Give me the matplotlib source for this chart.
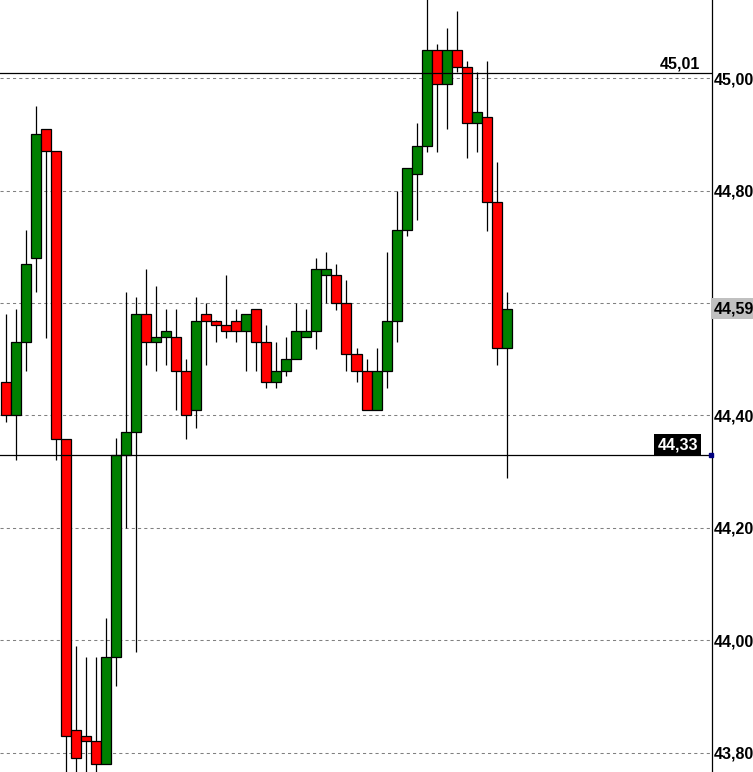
import numpy as np
import matplotlib
matplotlib.use("Agg")
import matplotlib.pyplot as plt
import matplotlib.transforms as mtransforms
from matplotlib.ticker import FuncFormatter

plt.rcParams['font.family'] = ['Liberation Sans', 'DejaVu Sans']

# OHLC values (one candle per bar)
opens = [44.459, 44.401, 44.530, 44.680, 44.909, 44.871, 44.359, 43.840, 43.829, 43.820,
         43.780, 43.970, 44.329, 44.370, 44.580, 44.530, 44.539, 44.539, 44.480, 44.409,
         44.580, 44.569, 44.561, 44.569, 44.550, 44.589, 44.530, 44.459, 44.480, 44.500,
         44.539, 44.550, 44.650, 44.650, 44.600, 44.509, 44.480, 44.409, 44.480, 44.569,
         44.730, 44.830, 44.879, 45.050, 44.989, 45.050, 45.020, 44.920, 44.931, 44.780,
         44.520]
highs = [44.581, 44.590, 44.730, 44.951, 44.910, 44.871, 44.359, 43.990, 43.970, 43.970,
         44.039, 44.360, 44.620, 44.611, 44.661, 44.630, 44.590, 44.590, 44.501, 44.611,
         44.600, 44.570, 44.650, 44.590, 44.580, 44.589, 44.561, 44.530, 44.539, 44.600,
         44.590, 44.680, 44.691, 44.670, 44.641, 44.520, 44.501, 44.520, 44.691, 44.799,
         44.840, 44.920, 45.160, 45.061, 45.090, 45.120, 45.030, 45.012, 45.030, 44.851,
         44.619]
lows = [44.389, 44.321, 44.480, 44.619, 44.538, 44.320, 43.740, 43.740, 43.740, 43.740,
        43.780, 43.919, 44.199, 43.980, 44.489, 44.480, 44.489, 44.409, 44.359, 44.378,
        44.489, 44.530, 44.538, 44.530, 44.480, 44.480, 44.449, 44.449, 44.470, 44.500,
        44.539, 44.519, 44.600, 44.588, 44.480, 44.459, 44.409, 44.409, 44.449, 44.530,
        44.720, 44.748, 44.869, 44.869, 44.909, 45.011, 44.859, 44.869, 44.729, 44.489,
        44.289]
closes = [44.401, 44.530, 44.669, 44.900, 44.871, 44.359, 43.830, 43.790, 43.821, 43.780,
          43.970, 44.329, 44.370, 44.580, 44.530, 44.539, 44.550, 44.480, 44.400, 44.569,
          44.569, 44.561, 44.550, 44.550, 44.580, 44.530, 44.459, 44.480, 44.500, 44.550,
          44.550, 44.660, 44.660, 44.600, 44.509, 44.480, 44.409, 44.480, 44.569, 44.730,
          44.840, 44.879, 45.050, 44.989, 45.050, 45.020, 44.920, 44.940, 44.780, 44.520,
          44.590]

y_ticks = [43.8, 44.0, 44.2, 44.4, 44.6, 44.8, 45.0]
level_high = 45.01
level_low = 44.33
last_price = 44.59

o = np.array(opens)
h = np.array(highs)
l = np.array(lows)
c = np.array(closes)
idx = np.arange(len(o))
up = c >= o


def fmt(v):
    return f"{v:.2f}".replace('.', ',')


fig = plt.figure(figsize=(7.53, 7.72), dpi=100)
ax = fig.add_axes([0, 0, 712 / 753, 1])

# wicks then bodies
ax.vlines(idx, l, h, color='black', linewidth=0.9, zorder=2)
ax.bar(idx, np.abs(c - o), bottom=np.minimum(o, c), width=1.0,
       color=np.where(up, '#008000', '#ff0000'), edgecolor='black',
       linewidth=0.9, zorder=3)

# support / resistance lines
ax.axhline(level_high, color='black', linewidth=0.9, zorder=4)
ax.axhline(level_low, color='black', linewidth=0.9, zorder=4)

ax.set_xlim(-0.55, 70.45)
ax.set_ylim(43.7656, 45.1393)

ax.set_yticks(y_ticks)
ax.yaxis.set_major_formatter(FuncFormatter(lambda v, p: fmt(v)))
ax.yaxis.tick_right()
ax.tick_params(axis='y', length=0, pad=1.5, labelsize=11.5)
plt.setp(ax.get_yticklabels(), fontweight='bold')
ax.set_xticks([])
ax.grid(axis='y', color='#808080', linestyle=(0, (3, 3)), linewidth=0.75)
ax.set_axisbelow(True)

for side in ['top', 'left', 'bottom']:
    ax.spines[side].set_visible(False)
ax.spines['right'].set_linewidth(0.9)

trans = mtransforms.blended_transform_factory(ax.transAxes, ax.transData)

# level labels
ax.annotate(fmt(level_high), xy=(1, level_high), xycoords=trans,
            xytext=(-8.2, 3.2), textcoords='offset points', ha='right', va='baseline',
            fontsize=11.5, fontweight='bold', color='black', annotation_clip=False, zorder=6)
ax.annotate(fmt(level_low), xy=(1, level_low), xycoords=trans,
            xytext=(-10.2, 1.8), textcoords='offset points', ha='right', va='bottom',
            fontsize=11.5, fontweight='bold', color='white', annotation_clip=False, zorder=6,
            bbox=dict(boxstyle='square,pad=0.2', facecolor='black', edgecolor='none'))
ax.plot([0.998], [level_low], marker='s', markersize=3, color='#000080',
        transform=trans, clip_on=False, zorder=6)

# current price tag on the axis
ax.annotate(fmt(last_price), xy=(1, last_price), xycoords=trans,
            xytext=(1.6, 0), textcoords='offset points', ha='left', va='center',
            fontsize=11.5, fontweight='bold', color='black', annotation_clip=False, zorder=6,
            bbox=dict(boxstyle='square,pad=0.18', facecolor='#c0c0c0', edgecolor='none'))

fig.savefig('out.png', dpi=100)
